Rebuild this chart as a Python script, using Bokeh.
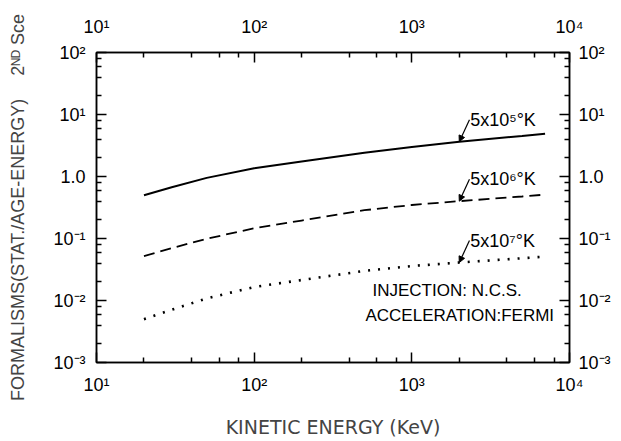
from bokeh.plotting import figure
from bokeh.models import (Range1d, LogAxis, FixedTicker, CustomJSTickFormatter,
                          Label, Arrow, NormalHead)
from bokeh.embed import file_html
from bokeh.resources import INLINE

# ---- data ----
ENERGY = [20, 30, 50, 100, 200, 500, 1000, 2000, 5000, 7000]          # KeV
T_5E5 = [0.50, 0.67, 0.95, 1.36, 1.74, 2.42, 3.00, 3.65, 4.50, 4.90]
T_5E6 = [0.052, 0.070, 0.099, 0.146, 0.195, 0.286, 0.347, 0.400, 0.476, 0.510]
T_5E7 = [0.0050, 0.0071, 0.0108, 0.0165, 0.0214, 0.030, 0.036, 0.041, 0.048, 0.051]
SERIES_LABELS = ["5x10\u2075\u00b0K", "5x10\u2076\u00b0K", "5x10\u2077\u00b0K"]

X_TICKS = [10, 100, 1000, 10000]
X_TICK_LABELS = ["10\u00b9", "10\u00b2", "10\u00b3", "10\u2074"]
Y_TICKS = [0.001, 0.01, 0.1, 1.0, 10, 100]
Y_TICK_LABELS = ["10\u207b\u00b3", "10\u207b\u00b2", "10\u207b\u00b9", "1.0", "10\u00b9", "10\u00b2"]
MINOR_MULT = [2, 4, 6, 8]

X_LABEL = "KINETIC ENERGY (KeV)"
Y_LABEL = "FORMALISMS(STAT./AGE-ENERGY)\u2003 2\u1d3a\u1d30 Sce"
NOTE_1 = "INJECTION: N.C.S."
NOTE_2 = "ACCELERATION:FERMI"

FONT = "Liberation Sans"


def minor(ticks):
    out = []
    for t in ticks[:-1]:
        out += [t * m for m in MINOR_MULT]
    return out


def fmt(vals, labels):
    return CustomJSTickFormatter(args=dict(vals=vals, labels=labels), code="""
        const i = vals.findIndex(v => Math.abs(Math.log10(v) - Math.log10(tick)) < 1e-6);
        return i >= 0 ? labels[i] : "";
    """)


p = figure(frame_width=473, frame_height=310, x_axis_type="log", y_axis_type="log",
           x_range=Range1d(10, 1e4), y_range=Range1d(1e-3, 1e2),
           output_backend="svg", toolbar_location=None,
           min_border_left=96, min_border_right=0, min_border_top=52, min_border_bottom=0)
p.xgrid.visible = False
p.ygrid.visible = False
p.outline_line_color = "black"
p.outline_line_width = 1.5
p.background_fill_color = "white"
p.border_fill_color = "white"

p.add_layout(LogAxis(), "above")
p.add_layout(LogAxis(), "right")


def style(ax, ticks, labels, standoff):
    ax.ticker = FixedTicker(ticks=ticks, minor_ticks=minor(ticks))
    ax.formatter = fmt(ticks, labels)
    ax.axis_line_color = "black"
    ax.axis_line_width = 1.5
    ax.major_tick_in = 10
    ax.major_tick_out = 0
    ax.minor_tick_in = 5
    ax.minor_tick_out = 0
    ax.major_tick_line_width = 1.5
    ax.minor_tick_line_width = 1.5
    ax.major_label_text_font = FONT
    ax.major_label_text_font_size = "18px"
    ax.major_label_text_color = "black"
    ax.major_label_standoff = standoff
    ax.major_label_orientation = "horizontal"


style(p.below[0], X_TICKS, X_TICK_LABELS, 12)
style(p.above[0], X_TICKS, X_TICK_LABELS, 16)
style(p.left[0], Y_TICKS, Y_TICK_LABELS, 11)
style(p.right[0], Y_TICKS, Y_TICK_LABELS, 9)

p.below[0].axis_label = X_LABEL
p.below[0].axis_label_text_font = "DejaVu Sans"
p.below[0].axis_label_text_font_size = "19px"
p.below[0].axis_label_text_font_style = "normal"
p.below[0].axis_label_standoff = 18
p.left[0].axis_label = Y_LABEL
p.left[0].axis_label_text_font = FONT
p.left[0].axis_label_text_font_size = "18px"
p.left[0].axis_label_text_font_style = "normal"
p.left[0].axis_label_standoff = 22

# ---- curves ----
p.line(ENERGY, T_5E5, line_color="black", line_width=2)
p.line(ENERGY, T_5E6, line_color="black", line_width=1.8, line_dash="11 6")
p.line(ENERGY, T_5E7, line_color="black", line_width=2.6, line_dash="2 8")

# ---- curve labels with leaders ----
IDX = 7
for ys, lab in zip([T_5E5, T_5E6, T_5E7], SERIES_LABELS):
    xe, ye = ENERGY[IDX], ys[IDX]
    xs, ysn = xe * 1.16, ye * 2.26
    p.add_layout(Arrow(end=NormalHead(size=6, fill_color="black", line_color="black"),
                       x_start=xs, y_start=ysn, x_end=xe, y_end=ye,
                       line_color="black", line_width=1.2))
    p.add_layout(Label(x=xs * 1.01, y=ysn, text=lab, text_font=FONT,
                       text_font_size="18px", text_align="left",
                       text_baseline="middle", text_color="black"))

p.add_layout(Label(x=563, y=0.0144, text=NOTE_1, text_font=FONT, text_font_size="17px",
                   text_align="left", text_baseline="middle", text_color="black"))
p.add_layout(Label(x=508, y=0.0057, text=NOTE_2, text_font=FONT, text_font_size="17px",
                   text_align="left", text_baseline="middle", text_color="black"))

open("out.html", "w").write(file_html(p, INLINE))
